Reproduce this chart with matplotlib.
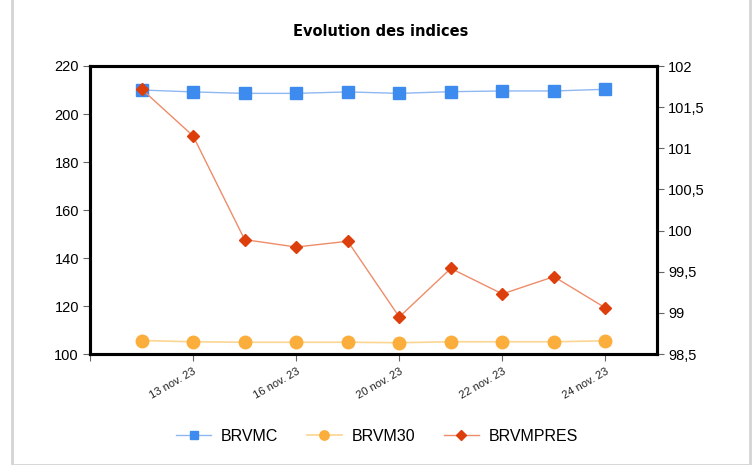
#!/usr/bin/env python3

import numpy as np
import matplotlib.pyplot as plt
from matplotlib.patches import Rectangle

# Data (10 trading days)
tick_labels = ['', '13 nov. 23', '16 nov. 23', '20 nov. 23', '22 nov. 23', '24 nov. 23']
brvmc = [210.0, 209.2, 208.6, 208.6, 209.2, 208.6, 209.3, 209.6, 209.6, 210.3]
brvm30 = [105.6, 105.1, 104.9, 104.9, 104.9, 104.7, 105.1, 105.1, 105.1, 105.5]
brvmpres = [101.72, 101.15, 99.89, 99.80, 99.87, 98.95, 99.54, 99.23, 99.44, 99.06]
right_ticks = [98.5, 99, 99.5, 100, 100.5, 101, 101.5, 102]

plt.rcParams['font.family'] = ['Liberation Sans', 'DejaVu Sans']

x = np.arange(1, len(brvmc) + 1)

fig = plt.figure(figsize=(7.56, 4.65), dpi=100)
fig.patches.append(Rectangle((12 / 756, 0), 738 / 756, 1.2, transform=fig.transFigure,
                             fill=False, edgecolor='#d4d4d4', lw=2))

ax = fig.add_axes([90 / 756, 1 - 354 / 465, 567 / 756, 288 / 465])
ax2 = ax.twinx()

l1, = ax.plot(x, brvmc, color='#8fb8f2', lw=1, marker='s', ms=8,
              mfc='#3d8bef', mec='#3d8bef', label='BRVMC')
l2, = ax.plot(x, brvm30, color='#fcd591', lw=1.2, marker='o', ms=9,
              mfc='#fbae3c', mec='#fbae3c', label='BRVM30')
l3, = ax2.plot(x, brvmpres, color='#ee8c6a', lw=1, marker='D', ms=6.5,
               mfc='#dd3f0c', mec='#dd3f0c', label='BRVMPRES')

ax.set_xlim(0, 11)
ax.set_xticks(np.arange(0, 11, 2))
ax.set_xticklabels(tick_labels, rotation=30, fontsize=8, ha='right',
                   rotation_mode='anchor', color='#222222')
ax.set_ylim(100, 220)
ax.set_yticks(np.arange(100, 221, 20))
ax2.set_ylim(98.5, 102)
ax2.set_yticks(right_ticks)
ax2.set_yticklabels([('%g' % v).replace('.', ',') for v in right_ticks])

for a in (ax, ax2):
    for s in a.spines.values():
        s.set_linewidth(2.2)
        s.set_color('black')
    a.tick_params(axis='y', labelsize=10.5, length=5, width=0.8, color='#666666', pad=3)
ax.tick_params(axis='x', length=5, width=0.8, color='#666666', pad=4)

fig.text(381 / 756, 1 - 31 / 465, 'Evolution des indices', ha='center', va='center',
         fontsize=10.5, fontweight='bold', family=['DejaVu Sans'])

fig.legend(handles=[l1, l2, l3], loc='center', bbox_to_anchor=(377 / 756, 1 - 436 / 465),
           ncol=3, frameon=False, fontsize=11.5, handlelength=2.2, columnspacing=1.8,
           handletextpad=0.6, markerscale=0.75)

fig.savefig('out.png', dpi=100)
